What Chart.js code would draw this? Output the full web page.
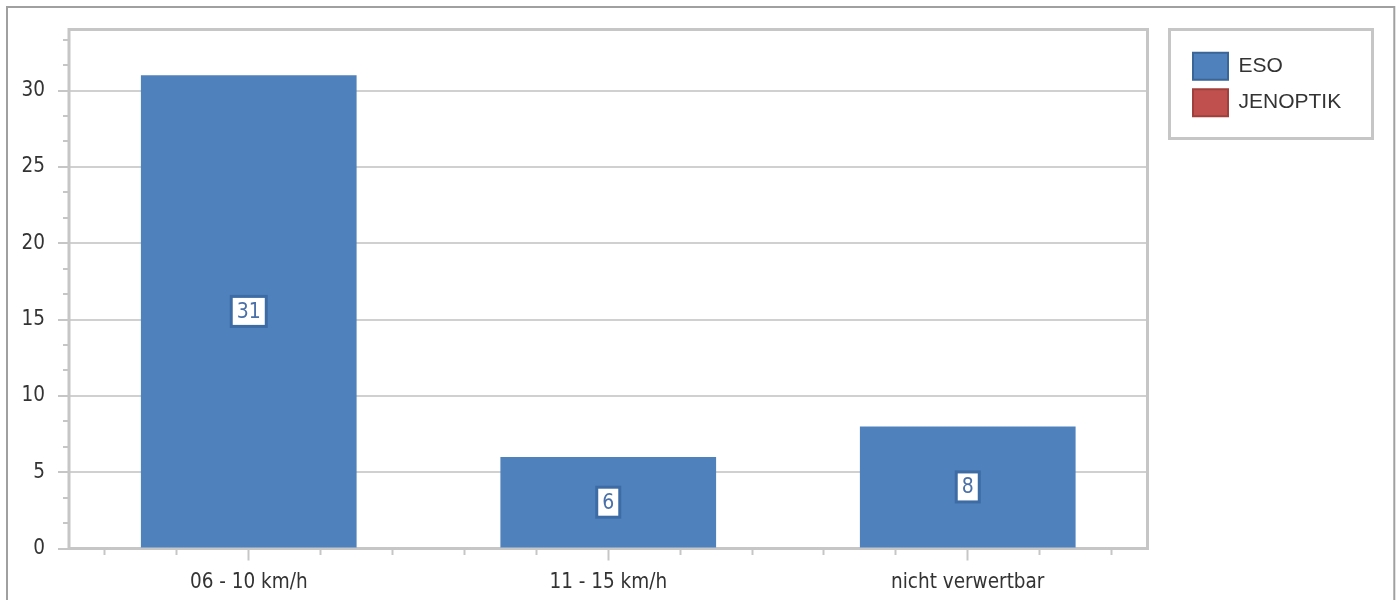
<!DOCTYPE html>
<html>
<head>
<meta charset="utf-8">
<title>ESO / JENOPTIK</title>
<script src="https://cdn.jsdelivr.net/npm/chart.js@4.4.1/dist/chart.umd.min.js"></script>
<style>
    html, body { margin: 0; padding: 0; background: #fff; overflow: hidden; }
    #grafica { display: block; }
</style>
</head>
<body>
<canvas id="grafica" width="1399" height="600"></canvas>
<script>
// Datos de la gráfica
const categorias = ['06 - 10 km/h', '11 - 15 km/h', 'nicht verwertbar'];
const nombresSeries = ['ESO', 'JENOPTIK'];
const serieEso = [31, 6, 8];
const serieJenoptik = [null, null, null];
const ticksY = [0, 5, 10, 15, 20, 25, 30];
const maxY = 34;
const subdivY = 3;   // marcas menores entre dos marcas del eje Y
const subdivX = 5;   // marcas del eje X por categoría

// Estilos
const fuenteEjes = '"DejaVu Sans Condensed", "Liberation Sans", sans-serif';
const fuenteLeyenda = '"Liberation Sans", Arial, sans-serif';
const colorTexto = '#333333';
const colorBorde = '#c6c6c6';
const colorRejilla = '#d0d0d0';
const bordesLeyenda = ['#3a6597', '#a0403d'];

const intervaloY = ticksY[1] - ticksY[0];
// Posiciones (vacías) de las marcas del eje X: subdivX por categoría
const marcasX = [];
categorias.forEach(() => { for (let j = 0; j < subdivX; j++) marcasX.push(''); });

function esMayorY(ctx) {
    if (!ctx || !ctx.tick) return true;
    const q = ctx.tick.value / intervaloY;
    return Math.abs(q - Math.round(q)) < 1e-6;
}
function esMayorX(ctx) {
    if (!ctx || !ctx.tick) return true;
    return (ctx.index % subdivX) === Math.floor(subdivX / 2);
}

// Marco exterior gris
const marcoExterior = {
    id: 'marcoExterior',
    beforeDraw(chart) {
        const ctx = chart.ctx;
        ctx.save();
        ctx.strokeStyle = '#a0a0a0';
        ctx.lineWidth = 2;
        ctx.strokeRect(7, 7, 1387.3, 700);
        ctx.restore();
    }
};

// Marco del área de trazado
const marcoArea = {
    id: 'marcoArea',
    beforeDatasetsDraw(chart) {
        const {ctx, chartArea: a} = chart;
        ctx.save();
        ctx.strokeStyle = colorBorde;
        ctx.lineWidth = 3;
        ctx.strokeRect(a.left, a.top, a.right - a.left, a.bottom - a.top);
        ctx.restore();
    }
};

// Recuadro alrededor de la leyenda
const marcoLeyenda = {
    id: 'marcoLeyenda',
    afterDraw(chart) {
        const ley = chart.legend;
        const ctx = chart.ctx;
        ctx.save();
        ctx.strokeStyle = colorBorde;
        ctx.lineWidth = 3;
        ctx.strokeRect(ley.left - 14, ley.top, 203, 109);
        ctx.restore();
    }
};

// Etiquetas de valor en el centro de cada barra
const etiquetasValor = {
    id: 'etiquetasValor',
    afterDatasetsDraw(chart) {
        const ctx = chart.ctx;
        const meta = chart.getDatasetMeta(0);
        ctx.save();
        ctx.font = '21px ' + fuenteEjes;
        ctx.textAlign = 'center';
        ctx.textBaseline = 'middle';
        meta.data.forEach((barra, i) => {
            const valor = chart.data.datasets[0].data[i];
            if (valor == null) return;
            const texto = String(valor);
            const ancho = ctx.measureText(texto).width + 11;
            const alto = 30;
            const cx = barra.x;
            const cy = (barra.y + barra.base) / 2;
            ctx.fillStyle = '#ffffff';
            ctx.fillRect(cx - ancho / 2, cy - alto / 2, ancho, alto);
            ctx.lineWidth = 3;
            ctx.strokeStyle = '#3d6ba3';
            ctx.strokeRect(cx - ancho / 2, cy - alto / 2, ancho, alto);
            ctx.fillStyle = '#4a70a8';
            ctx.fillText(texto, cx, cy + 1);
        });
        ctx.restore();
    }
};

function renderizarGrafica() {
    new Chart(document.getElementById('grafica'), {
        type: 'bar',
        data: {
            labels: categorias,
            datasets: [{
                label: nombresSeries[0],
                data: serieEso,
                xAxisID: 'x',
                yAxisID: 'y',
                backgroundColor: '#4f81bd',
                borderWidth: 0,
                grouped: false,
                barPercentage: 0.6,
                categoryPercentage: 1
            }, {
                label: nombresSeries[1],
                data: serieJenoptik,
                xAxisID: 'x',
                yAxisID: 'y',
                backgroundColor: '#c0504d',
                borderWidth: 0,
                grouped: false,
                barPercentage: 0.6,
                categoryPercentage: 1
            }]
        },
        options: {
            responsive: false,
            animation: false,
            devicePixelRatio: 1,
            layout: { padding: { top: 29.5, left: 0, right: 55.5, bottom: 0 } },
            scales: {
                x: {
                    type: 'category',
                    position: 'bottom',
                    weight: 1,
                    offset: true,
                    afterFit: escala => { escala.height = 39.5; },
                    border: { display: false },
                    grid: { display: false, drawTicks: false },
                    ticks: {
                        autoSkip: false,
                        maxRotation: 0,
                        padding: 10,
                        color: colorTexto,
                        font: { family: fuenteEjes, size: 20.5 }
                    }
                },
                y: {
                    type: 'linear',
                    position: 'left',
                    min: 0,
                    max: maxY,
                    afterBuildTicks: escala => {
                        const valores = [];
                        for (let i = 0; (i * intervaloY) / subdivY <= maxY; i++) {
                            valores.push((i * intervaloY) / subdivY);
                        }
                        escala.ticks = valores.map(v => ({ value: v }));
                    },
                    afterFit: escala => { escala.width = 69; },
                    border: { display: false },
                    grid: {
                        color: ctx => esMayorY(ctx) ? colorRejilla : 'rgba(0,0,0,0)',
                        lineWidth: 2,
                        tickLength: 11,
                        tickWidth: 2,
                        tickColor: colorBorde,
                        tickBorderDash: ctx => esMayorY(ctx) ? [] : [6, 5],
                        tickBorderDashOffset: ctx => esMayorY(ctx) ? 0 : 6
                    },
                    ticks: {
                        autoSkip: false,
                        padding: 13,
                        color: colorTexto,
                        font: { family: fuenteEjes, size: 20.5 },
                        callback: valor => {
                            const r = Math.round(valor);
                            return (Math.abs(valor - r) < 1e-6 && ticksY.includes(r)) ? r : '';
                        }
                    }
                },
                yEspacio: {
                    type: 'linear',
                    axis: 'y',
                    position: 'right',
                    afterFit: escala => { escala.width = 36; },
                    border: { display: false },
                    grid: { display: false, drawTicks: false },
                    ticks: { display: false }
                },
                xMenor: {
                    type: 'category',
                    axis: 'x',
                    position: 'bottom',
                    weight: 0,
                    labels: marcasX,
                    offset: true,
                    afterFit: escala => { escala.height = 12; },
                    border: { display: false },
                    grid: {
                        offset: false,
                        drawOnChartArea: false,
                        tickLength: 12,
                        tickWidth: 2,
                        tickColor: colorBorde,
                        tickBorderDash: ctx => esMayorX(ctx) ? [] : [6, 20]
                    },
                    ticks: { display: false, autoSkip: false }
                }
            },
            plugins: {
                tooltip: { enabled: false },
                legend: {
                    position: 'right',
                    align: 'start',
                    maxWidth: 160,
                    title: { display: true, text: '', padding: { top: 1.7, bottom: 0 }, font: { size: 10 } },
                    labels: {
                        boxWidth: 35,
                        boxHeight: 27,
                        padding: 9.5,
                        color: colorTexto,
                        font: { family: fuenteLeyenda, size: 21 },
                        generateLabels: chart => Chart.defaults.plugins.legend.labels.generateLabels(chart)
                            .map((item, i) => Object.assign(item, { strokeStyle: bordesLeyenda[i], lineWidth: 2, hidden: false }))
                    }
                }
            }
        },
        plugins: [marcoExterior, marcoArea, etiquetasValor, marcoLeyenda]
    });
}

document.addEventListener('DOMContentLoaded', renderizarGrafica);
</script>
</body>
</html>
